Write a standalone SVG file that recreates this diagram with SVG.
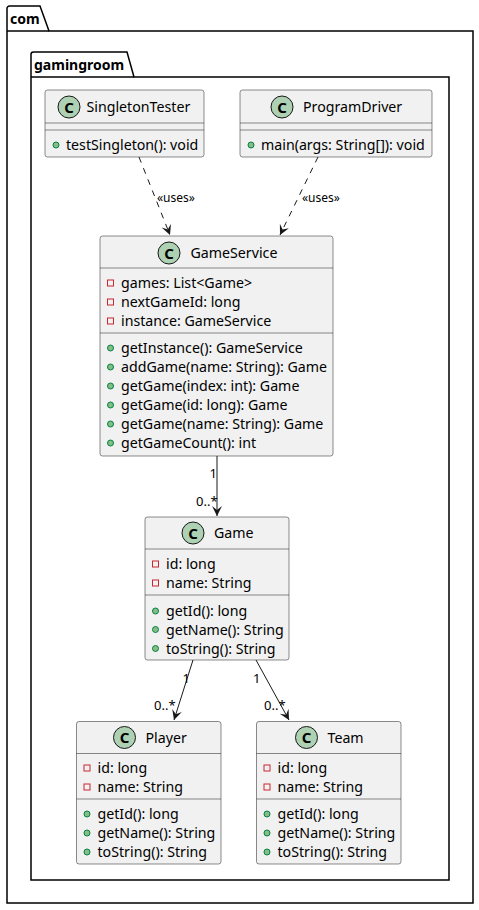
<svg xmlns="http://www.w3.org/2000/svg" width="479" height="910" viewBox="0 0 479 910">
<style>
text{font-family:"Noto Sans","Open Sans","DejaVu Sans",sans-serif;fill:#000}
.pkg{fill:none;stroke:#000;stroke-width:1.5}
.pname{font-size:14px;font-weight:bold}
.box{fill:#F1F1F1;stroke:#181818;stroke-width:0.5}
.sep{stroke:#181818;stroke-width:0.5}
.cls{fill:#ADD1B2;stroke:#181818;stroke-width:1}
.cl{font-size:15px;font-weight:bold;text-anchor:middle}
.nm{font-size:14.2px}
.mb{font-size:14.2px}
.priv{fill:none;stroke:#C82930;stroke-width:1}
.pub{fill:#84BE84;stroke:#038048;stroke-width:1}
.lbl{font-size:13px}
.ul{font-size:12px}
.dash{fill:none;stroke:#181818;stroke-width:1;stroke-dasharray:6,6}
.solid{fill:none;stroke:#181818;stroke-width:1}
</style>
<defs>
<marker id="ah" markerUnits="userSpaceOnUse" markerWidth="12" markerHeight="12" viewBox="0 0 12 10" refX="10" refY="5" orient="auto">
<path d="M0,0 L10,5 L0,10 L4,5 Z" fill="#181818"/>
</marker>
</defs>

<g id="pkg-com">
<path class="pkg" d="M9.5,6 L40,6 L49,31 L473,31 L473,903 L7,903 L7,8.5 A2.5,2.5 0 0 1 9.5,6 Z"/>
<line class="pkg" x1="7" y1="31" x2="49" y2="31"/>
<text class="pname" x="10" y="24">com</text>
</g>

<g id="pkg-gamingroom">
<path class="pkg" d="M33.5,52 L127,52 L134,77 L449,77 L449,880 L31,880 L31,54.5 A2.5,2.5 0 0 1 33.5,52 Z"/>
<line class="pkg" x1="31" y1="77" x2="134" y2="77"/>
<text class="pname" x="34" y="70">gamingroom</text>
</g>

<g id="SingletonTester">
<rect class="box" x="45" y="90" width="159" height="67" rx="2.5"/>
<circle class="cls" cx="69" cy="107" r="11"/>
<text class="cl" x="69" y="112.5">C</text>
<text class="nm" x="86.5" y="112">SingletonTester</text>
<line class="sep" x1="45" y1="123" x2="204" y2="123"/>
<line class="sep" x1="45" y1="130" x2="204" y2="130"/>
<circle class="pub" cx="56" cy="145" r="3"/>
<text class="mb" x="66" y="150">testSingleton(): void</text>
</g>

<g id="ProgramDriver">
<rect class="box" x="240" y="90" width="192" height="67" rx="2.5"/>
<circle class="cls" cx="282" cy="107" r="11"/>
<text class="cl" x="282" y="112.5">C</text>
<text class="nm" x="303" y="112">ProgramDriver</text>
<line class="sep" x1="240" y1="123" x2="432" y2="123"/>
<line class="sep" x1="240" y1="130" x2="432" y2="130"/>
<circle class="pub" cx="251" cy="145" r="3"/>
<text class="mb" x="261" y="150">main(args: String[]): void</text>
</g>

<g id="GameService">
<rect class="box" x="100" y="236" width="233" height="220" rx="2.5"/>
<circle class="cls" cx="169" cy="253" r="11"/>
<text class="cl" x="169" y="258.5">C</text>
<text class="nm" x="190.5" y="258">GameService</text>
<line class="sep" x1="100" y1="268" x2="333" y2="268"/>
<rect class="priv" x="107.5" y="280" width="6" height="6"/>
<text class="mb" x="121" y="288">games: List&lt;Game&gt;</text>
<rect class="priv" x="107.5" y="299" width="6" height="6"/>
<text class="mb" x="121" y="307">nextGameId: long</text>
<rect class="priv" x="107.5" y="318" width="6" height="6"/>
<text class="mb" x="121" y="326">instance: GameService</text>
<line class="sep" x1="100" y1="333" x2="333" y2="333"/>
<circle class="pub" cx="110.5" cy="348" r="3"/>
<text class="mb" x="121" y="353">getInstance(): GameService</text>
<circle class="pub" cx="110.5" cy="367" r="3"/>
<text class="mb" x="121" y="372">addGame(name: String): Game</text>
<circle class="pub" cx="110.5" cy="386" r="3"/>
<text class="mb" x="121" y="391">getGame(index: int): Game</text>
<circle class="pub" cx="110.5" cy="405" r="3"/>
<text class="mb" x="121" y="410">getGame(id: long): Game</text>
<circle class="pub" cx="110.5" cy="424" r="3"/>
<text class="mb" x="121" y="429">getGame(name: String): Game</text>
<circle class="pub" cx="110.5" cy="443" r="3"/>
<text class="mb" x="121" y="448">getGameCount(): int</text>
</g>

<g id="Game">
<rect class="box" x="145" y="517" width="144" height="143" rx="2.5"/>
<circle class="cls" cx="193" cy="533" r="11"/>
<text class="cl" x="193" y="538.5">C</text>
<text class="nm" x="214" y="538">Game</text>
<line class="sep" x1="145" y1="549" x2="289" y2="549"/>
<rect class="priv" x="152.5" y="561" width="6" height="6"/>
<text class="mb" x="166" y="569">id: long</text>
<rect class="priv" x="152.5" y="580" width="6" height="6"/>
<text class="mb" x="166" y="588">name: String</text>
<line class="sep" x1="145" y1="595" x2="289" y2="595"/>
<circle class="pub" cx="155.5" cy="611" r="3"/>
<text class="mb" x="166" y="616">getId(): long</text>
<circle class="pub" cx="155.5" cy="629.5" r="3"/>
<text class="mb" x="166" y="634.5">getName(): String</text>
<circle class="pub" cx="155.5" cy="648.5" r="3"/>
<text class="mb" x="166" y="653.5">toString(): String</text>
</g>

<g id="Player">
<rect class="box" x="76.5" y="721.5" width="144.5" height="142.5" rx="2.5"/>
<circle class="cls" cx="124.5" cy="737.5" r="11"/>
<text class="cl" x="124.5" y="743">C</text>
<text class="nm" x="145.5" y="742.5">Player</text>
<line class="sep" x1="76.5" y1="753.5" x2="221" y2="753.5"/>
<rect class="priv" x="84" y="765" width="6" height="6"/>
<text class="mb" x="97.5" y="773">id: long</text>
<rect class="priv" x="84" y="784" width="6" height="6"/>
<text class="mb" x="97.5" y="792">name: String</text>
<line class="sep" x1="76.5" y1="799" x2="221" y2="799"/>
<circle class="pub" cx="87" cy="814" r="3"/>
<text class="mb" x="97.5" y="819">getId(): long</text>
<circle class="pub" cx="87" cy="833" r="3"/>
<text class="mb" x="97.5" y="838">getName(): String</text>
<circle class="pub" cx="87" cy="852" r="3"/>
<text class="mb" x="97.5" y="857">toString(): String</text>
</g>

<g id="Team">
<rect class="box" x="256.5" y="721.5" width="144.5" height="142.5" rx="2.5"/>
<circle class="cls" cx="306.5" cy="737.5" r="11"/>
<text class="cl" x="306.5" y="743">C</text>
<text class="nm" x="327.5" y="742.5">Team</text>
<line class="sep" x1="256.5" y1="753.5" x2="401" y2="753.5"/>
<rect class="priv" x="264" y="765" width="6" height="6"/>
<text class="mb" x="277.5" y="773">id: long</text>
<rect class="priv" x="264" y="784" width="6" height="6"/>
<text class="mb" x="277.5" y="792">name: String</text>
<line class="sep" x1="256.5" y1="799" x2="401" y2="799"/>
<circle class="pub" cx="267" cy="814" r="3"/>
<text class="mb" x="277.5" y="819">getId(): long</text>
<circle class="pub" cx="267" cy="833" r="3"/>
<text class="mb" x="277.5" y="838">getName(): String</text>
<circle class="pub" cx="267" cy="852" r="3"/>
<text class="mb" x="277.5" y="857">toString(): String</text>
</g>

<g id="connectors">
<path class="dash" d="M139,157 L170,235" marker-end="url(#ah)"/>
<text class="ul" x="157" y="202">«uses»</text>
<path class="dash" d="M318,157 L280,235" marker-end="url(#ah)"/>
<text class="ul" x="302" y="202">«uses»</text>
<path class="solid" d="M217,456 L217,516" marker-end="url(#ah)"/>
<text class="lbl" x="209.5" y="478">1</text>
<text class="lbl" x="196" y="506">0..*</text>
<path class="solid" d="M193,660 L174,720" marker-end="url(#ah)"/>
<text class="lbl" x="182.5" y="683">1</text>
<text class="lbl" x="154" y="710">0..*</text>
<path class="solid" d="M256,660 L289,720" marker-end="url(#ah)"/>
<text class="lbl" x="253" y="683">1</text>
<text class="lbl" x="264" y="710">0..*</text>
</g>
</svg>
